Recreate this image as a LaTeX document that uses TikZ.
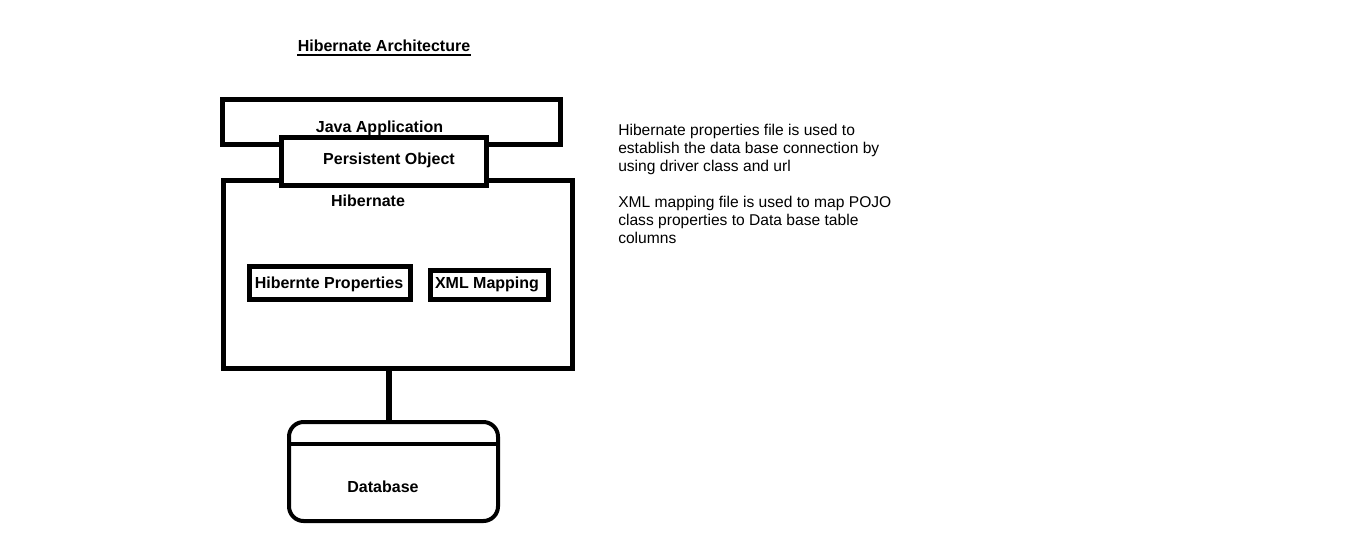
\documentclass[tikz,border=0pt]{standalone}
\usepackage{fontspec}
\setmainfont{Liberation Sans}
\usetikzlibrary{calc}
\begin{document}
\begin{tikzpicture}[x=0.75pt,y=-0.75pt,
  box/.style={draw=black,line width=3.75pt,fill=white,inner sep=0pt},
  lbl/.style={font=\bfseries\fontsize{12pt}{14pt}\selectfont,anchor=base,inner sep=0pt},
  note/.style={font=\fontsize{11.7pt}{13.5pt}\selectfont,anchor=base west,inner sep=0pt}]
\useasboundingbox (0,0) rectangle (1360,558);
% boxes
\node[box,minimum width=261.75pt,minimum height=141pt] (hib) at (398,274.5) {};
\node[box,minimum width=253.5pt,minimum height=33.75pt] (java) at (391.5,122) {};
\node[box,minimum width=153.75pt,minimum height=36pt] (pers) at (384,161.5) {};
\node[box,minimum width=120.75pt,minimum height=24.75pt] (hprop) at (330,283) {};
\node[box,minimum width=88.5pt,minimum height=21.75pt] (xml) at (489.5,285) {};
\node[draw=black,line width=3pt,rounded corners=11pt,minimum width=156.75pt,minimum height=74.25pt,inner sep=0pt] (db) at (393.5,471.5) {};
\coordinate (dbl) at (289,444);
\coordinate (dbr) at (498,444);
\draw[line width=3pt] (dbl) -- (dbr);
\coordinate (c) at (388.5,0);
\draw[line width=4.5pt] (hib.south -| c) -- (db.north -| c);
% labels
\node[lbl] (tjava) at (379.5,132) {Java Application};
\node[lbl] (tpers) at (389,164) {Persistent Object};
\node[lbl] (thib) at (368,206) {Hibernate};
\node[lbl] (thprop) at (329,288) {Hibernte Properties};
\node[lbl] (txml) at (487,288) {XML Mapping};
\node[lbl] (tdb) at (383,492) {Database};
\node[lbl] (title) at (384,51) {Hibernate Architecture};
\draw[line width=1.5pt] ($(title.base west)+(0,3.5)$) -- ($(title.base east)+(0,3.5)$);
% notes
\node[note] (n1) at (618,135) {Hibernate properties file is used to};
\node[note] (n2) at (618,153) {establish the data base connection by};
\node[note] (n3) at (618,171) {using driver class and url};
\node[note] (n4) at (618,207) {XML mapping file is used to map POJO};
\node[note] (n5) at (618,225) {class properties to Data base table};
\node[note] (n6) at (618,243) {columns};
\end{tikzpicture}
\end{document}
